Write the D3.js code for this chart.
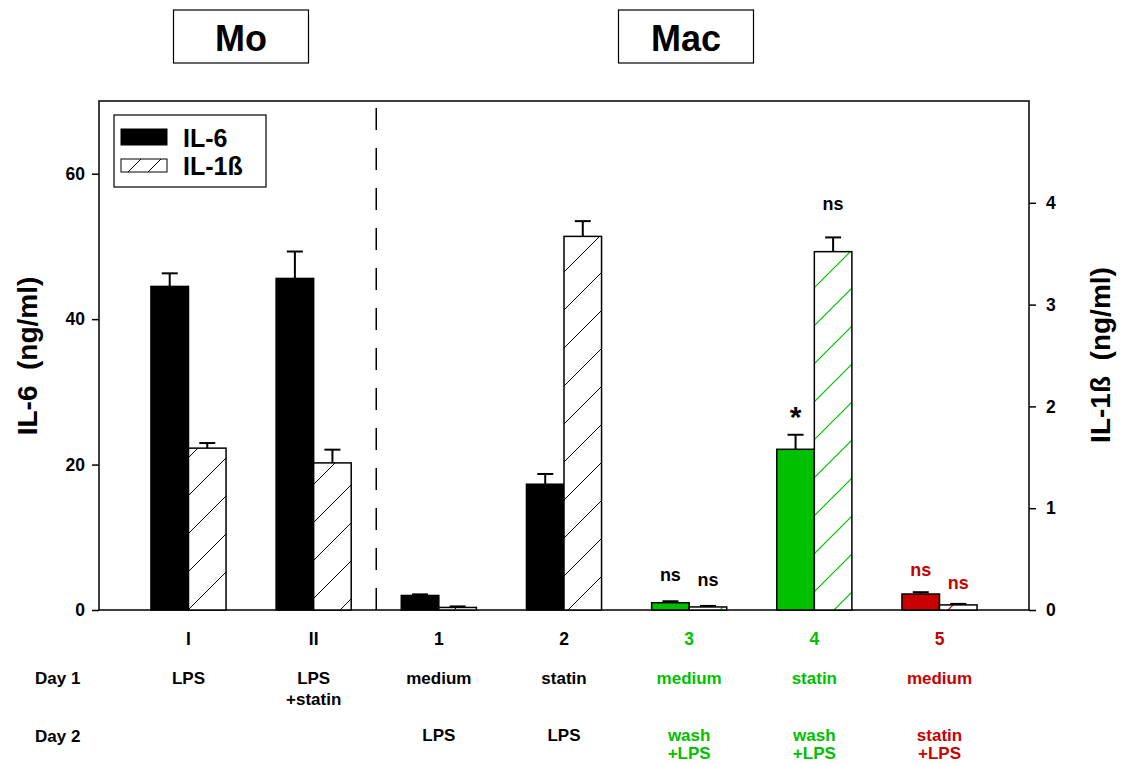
<!DOCTYPE html>
<html><head><meta charset="utf-8">
<script src="https://cdn.jsdelivr.net/npm/d3@7"></script>
<style>
html,body{margin:0;padding:0;background:#fff;}
svg{display:block;font-family:"Liberation Sans",Arial,Helvetica,sans-serif;font-weight:bold;}
</style></head><body>
<svg id="chart" width="1124" height="764"></svg>
<script>
// ---------- data ----------
const groups = ["I", "II", "1", "2", "3", "4", "5"];
const cellTypes = ["Mo", "Mac"];
const day1Labels = [["LPS"], ["LPS", "+statin"], ["medium"], ["statin"], ["medium"], ["statin"], ["medium"]];
const day2Labels = [[], [], ["LPS"], ["LPS"], ["wash", "+LPS"], ["wash", "+LPS"], ["statin", "+LPS"]];
const il6 = [44.5, 45.6, 2.0, 17.3, 1.0, 22.1, 2.2];          // ng/ml, left axis
const il6Err = [1.8, 3.7, 0.15, 1.4, 0.2, 2.0, 0.25];
const il1b = [1.59, 1.445, 0.025, 3.67, 0.03, 3.52, 0.05];    // ng/ml, right axis
const il1bErr = [0.05, 0.13, 0.01, 0.15, 0.01, 0.14, 0.01];
const groupColors = ["#000000", "#000000", "#000000", "#000000", "#00c000", "#00c000", "#c80000"];
const seriesNames = ["IL-6", "IL-1ß"];
const leftTicks = [0, 20, 40, 60];
const rightTicks = [0, 1, 2, 3, 4];
const annGroups = ["3", "3", "4", "4", "5", "5"];
const annSeries = ["il6", "il1b", "il6", "il1b", "il6", "il1b"];
const annTexts = ["ns", "ns", "*", "ns", "ns", "ns"];
const annLevels = [4.0, 0.236, 25.2, 3.93, 4.68, 0.206];
const annColors = ["#000000", "#000000", "#000000", "#000000", "#c80000", "#c80000"];

// ---------- layout ----------
const svg = d3.select("#chart");
const L = 99, R = 1029, T = 101, B = 610;

const x = d3.scaleBand().domain(groups).range([L, R]).paddingInner(0.4).paddingOuter(0.415);
const bw = x.bandwidth() / 2;
const yL = d3.scaleLinear().domain([0, 70]).range([B, T]);
const yR = d3.scaleLinear().domain([0, 5]).range([B, T]);

// hatch patterns
const defs = svg.append("defs");
function hatch(id, color, size, sw) {
  const p = defs.append("pattern").attr("id", id).attr("patternUnits", "userSpaceOnUse")
    .attr("width", size).attr("height", size);
  p.append("rect").attr("width", size).attr("height", size).attr("fill", "#fff");
  p.append("path").attr("d", `M0,${size} L${size},0 M-1,1 L1,-1 M${size - 1},${size + 1} L${size + 1},${size - 1}`)
    .attr("stroke", color).attr("stroke-width", sw);
}
const hatchIds = groupColors.map(c => "h" + c.slice(1));
Array.from(new Set(groupColors)).forEach(c => hatch("h" + c.slice(1), c, 38, c === "#000000" ? 1 : 1.2));
hatch("hlegend", "#000000", 20, 1);

// frame
svg.append("rect").attr("x", L).attr("y", T).attr("width", R - L).attr("height", B - T)
  .attr("fill", "none").attr("stroke", "#000").attr("stroke-width", 1.5);

// dashed separator between Mo and Mac
const sepX = (x("II") + x.bandwidth() + x("1")) / 2;
svg.append("line").attr("x1", sepX).attr("x2", sepX).attr("y1", T).attr("y2", B)
  .attr("stroke", "#000").attr("stroke-width", 1.5)
  .attr("stroke-dasharray", "22 18").attr("stroke-dashoffset", 33);

// axes
const axL = svg.append("g").attr("transform", `translate(${L},0)`)
  .call(d3.axisLeft(yL).tickValues(leftTicks).tickFormat(d3.format("d")).tickSize(7).tickPadding(7));
const axR = svg.append("g").attr("transform", `translate(${R},0)`)
  .call(d3.axisRight(yR).tickValues(rightTicks).tickFormat(d3.format("d")).tickSize(7).tickPadding(10));
[axL, axR].forEach(a => {
  a.select(".domain").remove();
  a.selectAll(".tick line").attr("stroke", "#000").attr("stroke-width", 1.5);
  a.selectAll(".tick text").attr("font-size", 17.5).attr("font-weight", "bold")
    .attr("font-family", '"Liberation Sans",Arial,sans-serif').attr("fill", "#000");
});

// axis titles
svg.append("text").attr("transform", `translate(37,356) rotate(-90)`)
  .attr("text-anchor", "middle").attr("font-size", 28).style("white-space", "pre")
  .text("IL-6  (ng/ml)");
svg.append("text").attr("transform", `translate(1110,355) rotate(-90)`)
  .attr("text-anchor", "middle").attr("font-size", 28).style("white-space", "pre")
  .text("IL-1ß  (ng/ml)");

// bars
const data = groups.map((g, i) => ({ g, i, il6: il6[i], il6Err: il6Err[i], il1b: il1b[i], il1bErr: il1bErr[i] }));
const gBars = svg.append("g");
gBars.selectAll("rect.il6").data(data).join("rect").attr("class", "il6")
  .attr("x", d => x(d.g)).attr("width", bw)
  .attr("y", d => yL(d.il6)).attr("height", d => yL(0) - yL(d.il6))
  .attr("fill", d => groupColors[d.i]).attr("stroke", "#000").attr("stroke-width", 1.5);
gBars.selectAll("rect.il1b").data(data).join("rect").attr("class", "il1b")
  .attr("x", d => x(d.g) + bw).attr("width", bw)
  .attr("y", d => yR(d.il1b)).attr("height", d => yR(0) - yR(d.il1b))
  .attr("fill", d => `url(#${hatchIds[d.i]})`).attr("stroke", "#000").attr("stroke-width", 1.5);

// error bars (upper only)
const capW = 16;
function errBars(cls, xOff, val, err, scale) {
  const g = svg.append("g").selectAll("g." + cls).data(data).join("g").attr("class", cls);
  g.append("line").attr("x1", d => x(d.g) + xOff).attr("x2", d => x(d.g) + xOff)
    .attr("y1", d => scale(d[val])).attr("y2", d => scale(d[val] + d[err]))
    .attr("stroke", "#000").attr("stroke-width", 2);
  g.append("line").attr("x1", d => x(d.g) + xOff - capW / 2).attr("x2", d => x(d.g) + xOff + capW / 2)
    .attr("y1", d => scale(d[val] + d[err])).attr("y2", d => scale(d[val] + d[err]))
    .attr("stroke", "#000").attr("stroke-width", 2);
}
errBars("e6", bw / 2, "il6", "il6Err", yL);
errBars("e1", bw * 1.5, "il1b", "il1bErr", yR);

// annotations
annTexts.forEach((t, k) => {
  const isL = annSeries[k] === "il6";
  const cx = x(annGroups[k]) + (isL ? bw / 2 : bw * 1.5);
  const cy = (isL ? yL : yR)(annLevels[k]);
  svg.append("text").attr("x", cx).attr("y", cy).attr("text-anchor", "middle")
    .attr("font-size", t === "*" ? 30 : 18).attr("fill", annColors[k]).text(t);
});

// group labels and day rows
groups.forEach((g, i) => {
  const cx = x(g) + x.bandwidth() / 2;
  svg.append("text").attr("x", cx).attr("y", 645).attr("text-anchor", "middle")
    .attr("font-size", 17.5).attr("fill", groupColors[i]).text(g);
  day1Labels[i].forEach((s, j) => svg.append("text").attr("x", cx).attr("y", 684 + j * 21)
    .attr("text-anchor", "middle").attr("font-size", 17).attr("fill", groupColors[i]).text(s));
  day2Labels[i].forEach((s, j) => svg.append("text").attr("x", cx).attr("y", 741 + j * 18)
    .attr("text-anchor", "middle").attr("font-size", 17).attr("fill", groupColors[i]).text(s));
});
svg.append("text").attr("x", 35).attr("y", 684).attr("font-size", 17).text("Day 1");
svg.append("text").attr("x", 35).attr("y", 742).attr("font-size", 17).text("Day 2");

// cell-type boxes
const boxCenters = [241, 686];
cellTypes.forEach((c, i) => {
  svg.append("rect").attr("x", boxCenters[i] - 67.5).attr("y", 10).attr("width", 135).attr("height", 53)
    .attr("fill", "#fff").attr("stroke", "#000").attr("stroke-width", 1.2);
  svg.append("text").attr("x", boxCenters[i]).attr("y", 51).attr("text-anchor", "middle")
    .attr("font-size", 36).text(c);
});

// legend
const lg = svg.append("g");
lg.append("rect").attr("x", 114).attr("y", 115).attr("width", 152).attr("height", 72)
  .attr("fill", "#fff").attr("stroke", "#000").attr("stroke-width", 1.2);
lg.append("rect").attr("x", 121).attr("y", 129).attr("width", 46).attr("height", 16)
  .attr("fill", "#000").attr("stroke", "#000").attr("stroke-width", 1);
lg.append("rect").attr("x", 121).attr("y", 159).attr("width", 46).attr("height", 13)
  .attr("fill", "url(#hlegend)").attr("stroke", "#000").attr("stroke-width", 1);
seriesNames.forEach((s, i) => lg.append("text").attr("x", 183).attr("y", 147 + i * 28)
  .attr("font-size", 25).text(s));
</script>
</body></html>
